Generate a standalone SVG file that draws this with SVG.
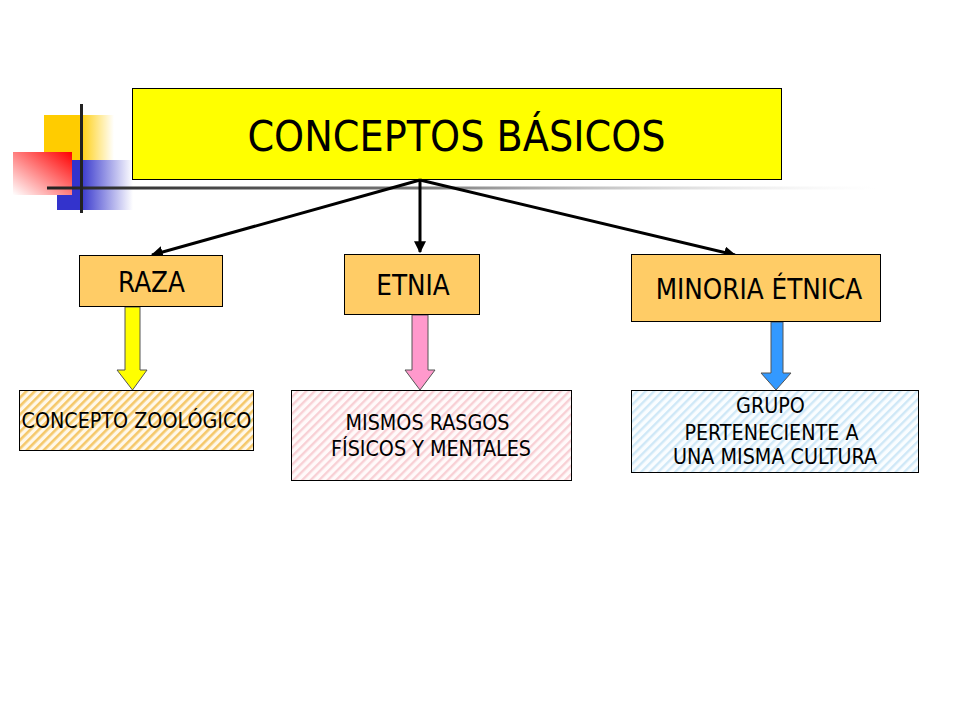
<svg xmlns="http://www.w3.org/2000/svg" width="960" height="720" viewBox="0 0 960 720">
<style>
.t{font-family:"DejaVu Sans Condensed","DejaVu Sans",sans-serif;fill:#000;text-anchor:middle}
.m{font-size:27.5px}
.s{font-size:21.3px}
.box{stroke:#000;stroke-width:1}
.conn{stroke:#000;stroke-width:3;fill:none;marker-end:url(#ah)}
.barrow{stroke:#555;stroke-width:1}
</style>
<defs>
<marker id="ah" viewBox="0 0 10 10" refX="9" refY="5" markerWidth="4" markerHeight="4" orient="auto" markerUnits="strokeWidth">
<path d="M0,0 L10,5 L0,10 z" fill="#000"/>
</marker>
<linearGradient id="gy" x1="0" y1="0" x2="1" y2="0"><stop offset="0.5" stop-color="#FFCC00"/><stop offset="1" stop-color="#FFCC00" stop-opacity="0"/></linearGradient>
<linearGradient id="gb" x1="0" y1="0" x2="1" y2="0"><stop offset="0.3" stop-color="#3333CC"/><stop offset="1" stop-color="#3333CC" stop-opacity="0"/></linearGradient>
<linearGradient id="gr" x1="1" y1="0" x2="0" y2="1"><stop offset="0" stop-color="#FF0000"/><stop offset="1" stop-color="#FFFFFF"/></linearGradient>
<linearGradient id="gl" x1="0" y1="0" x2="1" y2="0"><stop offset="0" stop-color="#222"/><stop offset="0.45" stop-color="#777"/><stop offset="1" stop-color="#ddd" stop-opacity="0"/></linearGradient>
<pattern id="po" width="6" height="6" patternUnits="userSpaceOnUse" patternTransform="rotate(45)"><rect width="6" height="6" fill="#FFF8EA"/><rect width="2.6" height="6" fill="#F5C86A"/></pattern>
<pattern id="pp" width="6" height="6" patternUnits="userSpaceOnUse" patternTransform="rotate(45)"><rect width="6" height="6" fill="#FFFAFA"/><rect width="2.4" height="6" fill="#F8D0D5"/></pattern>
<pattern id="pb" width="6" height="6" patternUnits="userSpaceOnUse" patternTransform="rotate(45)"><rect width="6" height="6" fill="#FAFDFF"/><rect width="2.4" height="6" fill="#CFE8F7"/></pattern>
</defs>
<rect width="960" height="720" fill="#fff"/>
<g id="decor">
<rect x="44" y="115" width="70" height="45" fill="url(#gy)"/>
<rect x="57" y="160" width="76" height="50" fill="url(#gb)"/>
<rect x="13" y="152" width="59" height="43" fill="url(#gr)"/>
<rect x="47" y="186.5" width="830" height="3" fill="url(#gl)"/>
<rect x="80" y="104" width="3" height="109" fill="#222"/>
</g>
<g id="title">
<rect class="box" x="132.5" y="88.5" width="649" height="91" fill="#FFFF00"/>
<text class="t" x="456.5" y="151" font-size="42.5">CONCEPTOS BÁSICOS</text>
</g>
<g id="connectors">
<line class="conn" x1="420" y1="180" x2="152" y2="255"/>
<line class="conn" x1="420" y1="180" x2="420" y2="252"/>
<line class="conn" x1="420" y1="180" x2="735" y2="255"/>
<path class="barrow" d="M125,307 H140 V370 H147 L132.5,390 L117,370 H125 Z" fill="#FFFF00"/>
<path class="barrow" d="M412,315 H428 V370 H435 L420,390 L405,370 H412 Z" fill="#FF99CC"/>
<path class="barrow" d="M771,322 H783 V373 H791 L776,390 L761,373 H771 Z" fill="#3399FF"/>
</g>
<g id="raza">
<rect class="box" x="79.5" y="255.5" width="143" height="51" fill="#FFCC66"/>
<text class="t m" x="151.5" y="292">RAZA</text>
</g>
<g id="etnia">
<rect class="box" x="344.5" y="254.5" width="135" height="60" fill="#FFCC66"/>
<text class="t m" x="413" y="295">ETNIA</text>
</g>
<g id="minoria">
<rect class="box" x="631.5" y="254.5" width="249" height="67" fill="#FFCC66"/>
<text class="t m" x="759" y="299">MINORIA ÉTNICA</text>
</g>
<g id="zoologico">
<rect class="box" x="19.5" y="390.5" width="234" height="60" fill="url(#po)"/>
<text class="t s" x="136.5" y="427.5">CONCEPTO ZOOLÓGICO</text>
</g>
<g id="rasgos">
<rect class="box" x="291.5" y="390.5" width="280" height="90" fill="url(#pp)"/>
<text class="t s" x="427.5" y="430">MISMOS RASGOS</text>
<text class="t s" x="431" y="456">FÍSICOS Y MENTALES</text>
</g>
<g id="grupo">
<rect class="box" x="631.5" y="390.5" width="287" height="82" fill="url(#pb)"/>
<text class="t s" x="770.5" y="413">GRUPO</text>
<text class="t s" x="771.5" y="440">PERTENECIENTE A</text>
<text class="t s" x="775" y="464">UNA MISMA CULTURA</text>
</g>
</svg>
